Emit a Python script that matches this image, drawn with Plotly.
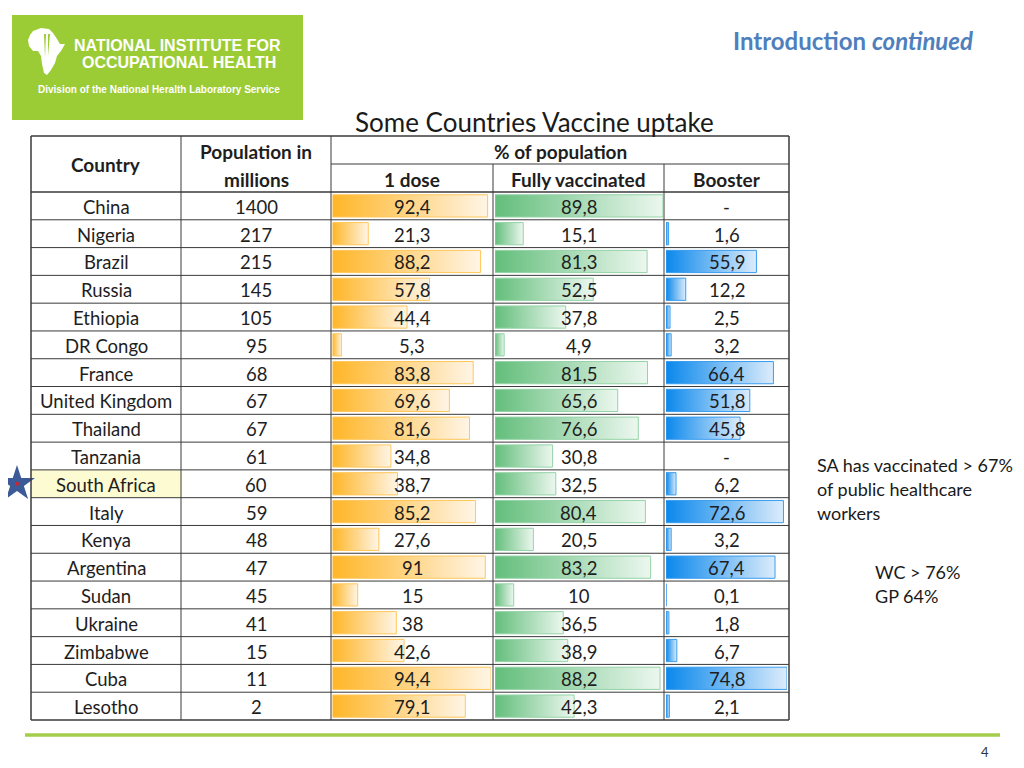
import plotly.graph_objects as go

# ---------------- data ----------------
countries = ["China", "Nigeria", "Brazil", "Russia", "Ethiopia", "DR Congo", "France",
             "United Kingdom", "Thailand", "Tanzania", "South Africa", "Italy", "Kenya",
             "Argentina", "Sudan", "Ukraine", "Zimbabwe", "Cuba", "Lesotho"]
population = [1400, 217, 215, 145, 105, 95, 68, 67, 67, 61, 60, 59, 48, 47, 45, 41, 15, 11, 2]
dose1 = [92.4, 21.3, 88.2, 57.8, 44.4, 5.3, 83.8, 69.6, 81.6, 34.8, 38.7, 85.2, 27.6, 91,
         15, 38, 42.6, 94.4, 79.1]
fully = [89.8, 15.1, 81.3, 52.5, 37.8, 4.9, 81.5, 65.6, 76.6, 30.8, 32.5, 80.4, 20.5, 83.2,
         10, 36.5, 38.9, 88.2, 42.3]
booster = [None, 1.6, 55.9, 12.2, 2.5, 3.2, 66.4, 51.8, 45.8, None, 6.2, 72.6, 3.2, 67.4,
           0.1, 1.8, 6.7, 74.8, 2.1]
highlight_country = "South Africa"

header_country = "Country"
header_pop = ["Population in", "millions"]
header_group = "% of population"
header_cols = ["1 dose", "Fully vaccinated", "Booster"]

title = "Some Countries Vaccine uptake"
notes_1 = ["SA has vaccinated > 67%", "of public healthcare", "workers"]
notes_2 = ["WC > 76%", "GP 64%"]

# ---------------- layout constants ----------------
# page body has an 8px margin: figure is 1008x752 placed at (8,8);
# pixel axes are set so that coordinates below are window pixels.
OFF = 8
W, H = 1024 - 2 * OFF, 768 - 2 * OFF
def px_x(x):
    return (x - OFF) / W
def px_y(y):
    return (H + OFF - y) / H

FONT = "Lato, Carlito, Calibri, sans-serif"
TXT = "#1e1e1e"
col_edges = [31, 181, 331, 493, 664, 789]
T_TOP, H_MID, H_BOT, T_BOT = 136, 164, 192, 720
n = len(countries)

bar_cols = [
    dict(values=dose1, x0=332.5, x1=491, color="#FFB628", light="#FFF5E6", edge="#FFC75A", ax="x2"),
    dict(values=fully, x0=495, x1=663, color="#63BE7B", light="#ECF7EF", edge="#94D3A7", ax="x3"),
    dict(values=booster, x0=666, x1=787, color="#0A88EC", light="#DCECFB", edge="#3A9DEF", ax="x4"),
]


def fmt(v):
    if v is None:
        return "-"
    return f"{v:g}".replace(".", ",")


fig = go.Figure()

# ---------------- data bars ----------------
hh = 0.4
for c in bar_cols:
    for i, v in enumerate(c["values"]):
        if v is None:
            continue
        fig.add_trace(go.Scatter(
            x=[0, v, v, 0, 0], y=[i - hh, i - hh, i + hh, i + hh, i - hh],
            xaxis=c["ax"], yaxis="y2", mode="lines", fill="toself",
            fillgradient=dict(type="horizontal", colorscale=[[0, c["color"]], [1, c["light"]]]),
            line=dict(color=c["edge"], width=1), hoverinfo="skip", showlegend=False))

# star marker next to highlighted country
hi = countries.index(highlight_country)
fig.add_trace(go.Scatter(x=[17], y=[hi], xaxis="x", yaxis="y2", mode="markers",
                         marker=dict(symbol="star", size=27, color="#3D5A98",
                                     line=dict(width=0)),
                         hoverinfo="skip", showlegend=False))
fig.add_trace(go.Scatter(x=[17], y=[hi], xaxis="x", yaxis="y2", mode="markers",
                         marker=dict(symbol="circle", size=4, color="#D0262B"),
                         hoverinfo="skip", showlegend=False))

shapes = []
ann = []

# logo
shapes.append(dict(type="rect", xref="x", yref="y", x0=12, x1=303, y0=15, y1=120,
                   fillcolor="#9BCC36", line=dict(width=0), layer="below"))
shapes.append(dict(type="path", xref="x", yref="y",
                   path="M 33 31 L 41 28 L 49 29 L 53 33 L 57 39 L 60 44 L 65 44 L 61 51 "
                        "L 57 56 L 55 63 L 51 70 L 47 75 L 44 73 L 42 64 L 41 56 L 38 51 "
                        "L 33 51 L 29 46 L 28 40 L 30 35 Z",
                   fillcolor="white", line=dict(width=0), layer="below"))
shapes.append(dict(type="path", xref="x", yref="y",
                   path="M 44 34 L 46 34 L 45 58 Z M 48 34 L 50 34 L 48 56 Z",
                   fillcolor="#9BCC36", line=dict(width=0), layer="below"))
LOGO_FONT = "Liberation Sans, Arial, sans-serif"
ann.append(dict(x=72, y=45, xref="x", yref="y", text="<b>NATIONAL INSTITUTE FOR</b>",
                showarrow=False, xanchor="left", yanchor="middle",
                font=dict(family=LOGO_FONT, size=16, color="white")))
ann.append(dict(x=80, y=62, xref="x", yref="y", text="<b>OCCUPATIONAL HEALTH</b>",
                showarrow=False, xanchor="left", yanchor="middle",
                font=dict(family=LOGO_FONT, size=16, color="white")))
ann.append(dict(x=159, y=89, xref="x", yref="y",
                text="<b>Division of the National Heralth Laboratory Service</b>",
                showarrow=False, xanchor="center", yanchor="middle",
                font=dict(family=LOGO_FONT, size=10, color="white")))

# header title top right
ann.append(dict(x=975, y=40, xref="x", yref="y",
                text="<b>Introduction <i>continued</i></b>", showarrow=False,
                xanchor="right", yanchor="middle",
                font=dict(family=FONT, size=24, color="#4F7FBD")))
# chart title
ann.append(dict(x=534, y=122, xref="x", yref="y", text=title, showarrow=False,
                xanchor="center", yanchor="middle",
                font=dict(family=FONT, size=26, color="#1a1a1a")))

# highlight cell
shapes.append(dict(type="rect", xref="x", yref="y2", x0=col_edges[0], x1=col_edges[1],
                   y0=hi - 0.5, y1=hi + 0.5, fillcolor="#FCFBD2", line=dict(width=0),
                   layer="below"))

# table grid
LC = "#3a3a3a"
def hline(x0, x1, y, yref="y", w=1):
    shapes.append(dict(type="line", xref="x", yref=yref, x0=x0, x1=x1, y0=y, y1=y,
                       line=dict(color=LC, width=w), layer="above"))
def vline(x, y0, y1, w=1):
    shapes.append(dict(type="line", xref="x", yref="y", x0=x, x1=x, y0=y0, y1=y1,
                       line=dict(color=LC, width=w), layer="above"))

hline(col_edges[0], col_edges[-1], T_TOP, w=1.5)
hline(col_edges[2], col_edges[-1], H_MID)
hline(col_edges[0], col_edges[-1], H_BOT, w=1.5)
for i in range(1, n):
    hline(col_edges[0], col_edges[-1], i - 0.5, yref="y2")
hline(col_edges[0], col_edges[-1], T_BOT, w=1.5)
vline(col_edges[0], T_TOP, T_BOT, w=1.5)
vline(col_edges[1], T_TOP, T_BOT)
vline(col_edges[2], T_TOP, T_BOT)
vline(col_edges[3], H_MID, T_BOT)
vline(col_edges[4], H_MID, T_BOT)
vline(col_edges[5], T_TOP, T_BOT, w=1.5)

centers = [(col_edges[k] + col_edges[k + 1]) / 2 for k in range(5)]
hfont = dict(family=FONT, size=19, color=TXT)
ann.append(dict(x=centers[0], y=(T_TOP + H_BOT) / 2, xref="x", yref="y",
                text=f"<b>{header_country}</b>", showarrow=False, font=hfont))
ann.append(dict(x=centers[1], y=(T_TOP + H_MID) / 2 + 1, xref="x", yref="y",
                text=f"<b>{header_pop[0]}</b>", showarrow=False, font=hfont))
ann.append(dict(x=centers[1], y=(H_MID + H_BOT) / 2 + 1, xref="x", yref="y",
                text=f"<b>{header_pop[1]}</b>", showarrow=False, font=hfont))
ann.append(dict(x=(col_edges[2] + col_edges[5]) / 2, y=(T_TOP + H_MID) / 2 + 1, xref="x",
                yref="y", text=f"<b>{header_group}</b>", showarrow=False, font=hfont))
for k, h in enumerate(header_cols):
    ann.append(dict(x=centers[2 + k], y=(H_MID + H_BOT) / 2 + 1, xref="x", yref="y",
                    text=f"<b>{h}</b>", showarrow=False, font=hfont))

cfont = dict(family=FONT, size=18.5, color=TXT)
for i in range(n):
    row = [countries[i], str(population[i]), fmt(dose1[i]), fmt(fully[i]), fmt(booster[i])]
    for k, t in enumerate(row):
        ann.append(dict(x=centers[k], y=i, xref="x", yref="y2", text=t, showarrow=False,
                        yshift=-1, font=cfont))

# side notes
nfont = dict(family=FONT, size=18, color="#1a1a1a")
for j, t in enumerate(notes_1):
    ann.append(dict(x=815, y=465 + 24 * j, xref="x", yref="y", text=t, showarrow=False,
                    xanchor="left", yanchor="middle", font=nfont))
for j, t in enumerate(notes_2):
    ann.append(dict(x=873, y=572 + 24 * j, xref="x", yref="y", text=t, showarrow=False,
                    xanchor="left", yanchor="middle", font=nfont))

# footer line and page number
shapes.append(dict(type="line", xref="x", yref="y", x0=25, x1=1000, y0=735, y1=735,
                   line=dict(color="#A5CD4A", width=3.5), layer="below"))
ann.append(dict(x=985, y=752, xref="x", yref="y", text="4", showarrow=False,
                xanchor="center", yanchor="middle",
                font=dict(family=FONT, size=13, color="#333333")))

axis_off = dict(visible=False, showgrid=False, zeroline=False, fixedrange=True)
layout = dict(
    width=W, height=H, margin=dict(l=0, r=0, t=0, b=0, pad=0),
    paper_bgcolor="white", plot_bgcolor="rgba(0,0,0,0)",
    xaxis=dict(range=[OFF, OFF + W], domain=[0, 1], anchor="y", **axis_off),
    yaxis=dict(range=[OFF + H, OFF], domain=[0, 1], anchor="x", **axis_off),
    yaxis2=dict(range=[n - 0.5, -0.5], domain=[px_y(T_BOT), px_y(H_BOT)],
                anchor="x2", **axis_off),
    shapes=shapes, annotations=ann, showlegend=False,
)
for c in bar_cols:
    key = "xaxis" + c["ax"][1:]
    vals = [v for v in c["values"] if v is not None]
    layout[key] = dict(range=[0, max(vals)], domain=[px_x(c["x0"]), px_x(c["x1"])],
                       anchor="y2", **axis_off)
fig.update_layout(**layout)

fig.write_html("out.html")
